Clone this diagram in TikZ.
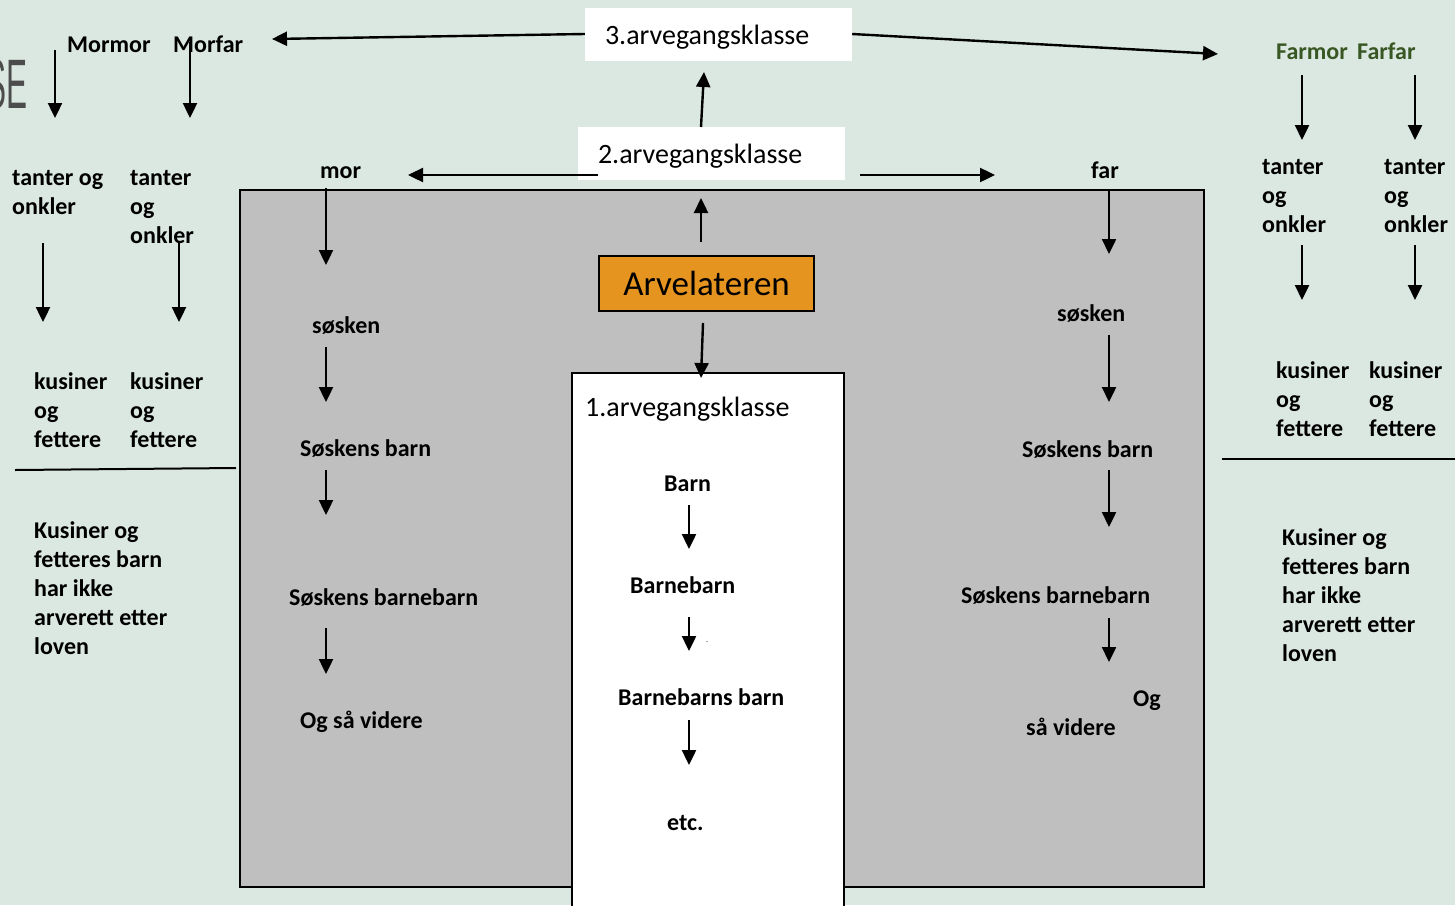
\documentclass[tikz,border=0pt]{standalone}
\usepackage{fontspec}
\setmainfont{Carlito}
\newfontfamily\edgefont{Liberation Sans}
\usetikzlibrary{arrows.meta}

\definecolor{bgcol}{RGB}{219,231,225}
\definecolor{boxgray}{RGB}{191,191,191}
\definecolor{arvorange}{RGB}{229,148,31}
\definecolor{farcol}{RGB}{56,87,35}

\tikzset{
  arr/.style={line width=2.4pt, -{Triangle[width=14pt,length=15pt]}},
  lbl/.style={font=\fontsize{24}{29}\selectfont\bfseries, anchor=base west, inner sep=0pt, align=left},
  klasse/.style={font=\fontsize{28}{29}\selectfont, fill=white, inner xsep=20pt, inner ysep=0pt,
                 text width=227pt, text height=22pt, text depth=2pt, minimum height=53pt, align=left},
}

\begin{document}
\begin{tikzpicture}[x={(1pt,0)}, y={(0,-1pt)}]

        %Background
        \useasboundingbox (0,0) rectangle (1455,905);
        \fill [bgcol] (0,0) rectangle (1455,905);
        \node [anchor=base east, inner sep=0pt, text=black!70, xscale=0.45,
               font=\edgefont\fontsize{70}{70}\selectfont] (edge) at (28,108) {SE};

        %Boxes
        \draw [line width=2pt, fill=boxgray] (240,190) rectangle (1204,887);
        \draw [line width=2pt, fill=white] (572,373) rectangle (844,912);
        \node [draw, line width=1.5pt, fill=arvorange, minimum width=215pt, minimum height=55pt,
               font=\fontsize{35}{35}\selectfont] (arv) at (706.5,283.5) {Arvelateren};
        \node [klasse] (k3) at (718.5,34) {3.arvegangsklasse};
        \node [klasse] (k2) at (711.5,153.5) {2.arvegangsklasse};
        \node [lbl, font=\fontsize{28}{29}\selectfont] (k1) at (585,416) {1.arvegangsklasse};

        %Lines
        \draw [line width=2pt] (15,470) -- (236,468);
        \draw [line width=1.6pt] (1222,459) -- (1455,459);

        %Mors side (multi-line texts sit on their last line)
        \node [lbl] (mormor) at (67,52) {Mormor};
        \node [lbl] (morfar) at (173,52) {Morfar};
        \node [lbl] (tanterA) at (12,214) {tanter og\\onkler};
        \node [lbl] (tanterB) at (130,243) {tanter\\og\\onkler};
        \node [lbl] (kusinerA) at (34,447) {kusiner\\og\\fettere};
        \node [lbl] (kusinerB) at (130,447) {kusiner\\og\\fettere};
        \node [lbl] (ikkeA) at (34,654) {Kusiner og\\fetteres barn\\har ikke\\arverett etter\\loven};

        %Fars side
        \node [lbl, text=farcol] (farmor) at (1276,59) {Farmor};
        \node [lbl, text=farcol] (farfar) at (1357,59) {Farfar};
        \node [lbl] (tanterC) at (1262,232) {tanter\\og\\onkler};
        \node [lbl] (tanterD) at (1384,232) {tanter\\og\\onkler};
        \node [lbl] (kusinerC) at (1276,436) {kusiner\\og\\fettere};
        \node [lbl] (kusinerD) at (1369,436) {kusiner\\og\\fettere};
        \node [lbl] (ikkeB) at (1282,661) {Kusiner og\\fetteres barn\\har ikke\\arverett etter\\loven};

        %Mor
        \node [lbl] (mor) at (320,178) {mor};
        \node [lbl] (soskenA) at (312,333) {søsken};
        \node [lbl] (barnA) at (300,456) {Søskens barn};
        \node [lbl] (bbarnA) at (289,605) {Søskens barnebarn};
        \node [lbl] (videreA) at (300,728) {Og så videre};

        %Far
        \node [lbl] (far) at (1091,178) {far};
        \node [lbl] (soskenB) at (1057,321) {søsken};
        \node [lbl] (barnB) at (1022,457) {Søskens barn};
        \node [lbl] (bbarnB) at (961,603) {Søskens barnebarn};
        \node [lbl] (ogB) at (1133,706) {Og};
        \node [lbl] (videreB) at (1026,735) {så videre};

        %Barn
        \node [lbl] (barn) at (664,491) {Barn};
        \node [lbl] (bbarn) at (630,593) {Barnebarn};
        \node [lbl] (bbbarn) at (618,705) {Barnebarns barn};
        \node [lbl] (etc) at (667,830) {etc.};
        \node [inner sep=0pt, font=\fontsize{8}{8}\selectfont] (prikk) at (707,642) {.};

        %Arrow ends
        \coordinate (c3l) at (272,39);
        \coordinate (c3r) at (1218,54);
        \coordinate (c2up) at (704,72);
        \coordinate (c2l) at (408,175);
        \coordinate (c2r) at (995,175);
        \coordinate (arvup) at (701,198);
        \coordinate (arvdn) at (701,378);

        %Arrows between the classes
        \draw [arr] (k3.west) -- (c3l);
        \draw [arr] (k3.east) -- (c3r);
        \draw [arr] (701,127) -- (c2up);
        \draw [arr] (598,175) -- (c2l);
        \draw [arr] (860,175) -- (c2r);
        \draw [arr] (701,242) -- (arvup);
        \draw [arr] (703,323) -- (arvdn);

        %Arrows, left
        \draw [arr] (55,50) -- (55,118);
        \draw [arr] (190,42) -- (190,118);
        \draw [arr] (43,243) -- (43,322);
        \draw [arr] (179,243) -- (179,322);
        \draw [arr] (326,188) -- (326,265);
        \draw [arr] (326,347) -- (326,402);
        \draw [arr] (326,470) -- (326,515);
        \draw [arr] (326,628) -- (326,674);

        %Arrows, middle
        \draw [arr] (689,505) -- (689,549);
        \draw [arr] (689,617) -- (689,651);
        \draw [arr] (689,720) -- (689,765);

        %Arrows, right
        \draw [arr] (1302,75) -- (1302,140);
        \draw [arr] (1415,75) -- (1415,140);
        \draw [arr] (1302,245) -- (1302,300);
        \draw [arr] (1415,245) -- (1415,300);
        \draw [arr] (1109,190) -- (1109,254);
        \draw [arr] (1109,335) -- (1109,402);
        \draw [arr] (1109,470) -- (1109,527);
        \draw [arr] (1109,618) -- (1109,662);

\end{tikzpicture}
\end{document}
